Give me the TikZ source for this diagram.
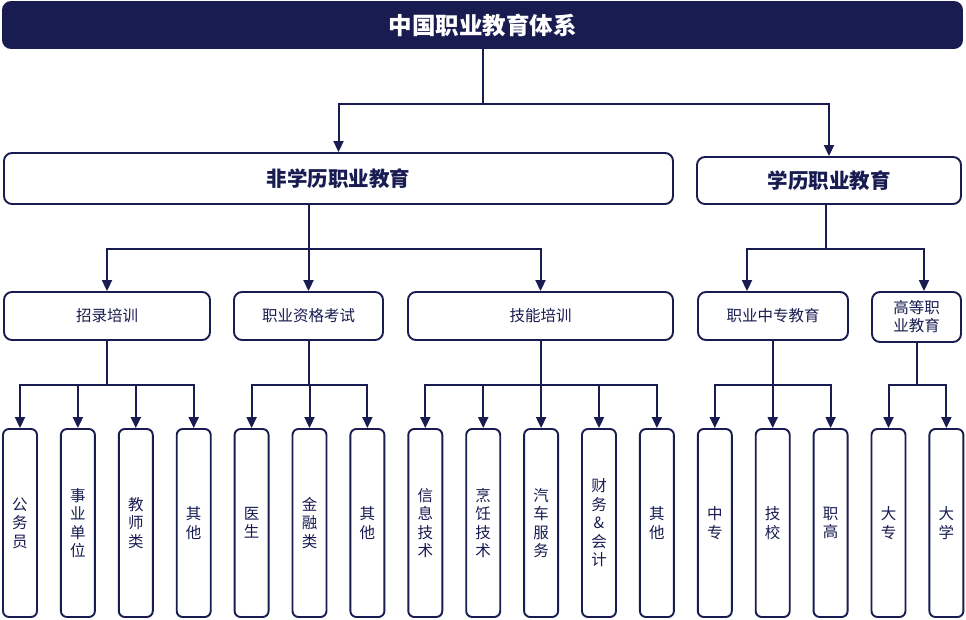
\documentclass[tikz,border=0pt]{standalone}
\usepackage{fontspec}
\newfontfamily\cjk{Noto Sans CJK SC}
\usetikzlibrary{arrows.meta}
\definecolor{navy}{HTML}{181C50}
\begin{document}
\begin{tikzpicture}[x=1pt,y=-1pt,
  box/.style={draw=navy,line width=1.9pt,rounded corners=8pt,fill=white,inner sep=0pt,text=navy,align=center},
  lvtwo/.style={box,font=\cjk\bfseries\fontsize{20.5}{23}\selectfont},
  lvthree/.style={box,minimum height=48pt,font=\cjk\fontsize{15.5}{18}\selectfont},
  leaf/.style={box,rounded corners=6pt,minimum width=34pt,minimum height=188pt,font=\cjk\fontsize{15.5}{18.5}\selectfont},
  arr/.style={draw=navy,line width=2pt,-{Triangle[width=10pt,length=11pt]}}]
\useasboundingbox (0,0) rectangle (966,620);

% top
\node[box,fill=navy,text=white,minimum width=959pt,minimum height=46pt,font=\cjk\bfseries\fontsize{23.5}{26}\selectfont] (top) at (482.5,25) {中国职业教育体系};

% level 2
\node[lvtwo,minimum width=669pt,minimum height=51pt] (nx) at (338.5,178.5) {非学历职业教育};
\node[lvtwo,minimum width=264pt,minimum height=47pt] (xl) at (829,180.5) {学历职业教育};

% level 3
\node[lvthree,minimum width=206pt] (zl) at (107,316) {招录培训};
\node[lvthree,minimum width=149pt] (zg) at (308.5,316) {职业资格考试};
\node[lvthree,minimum width=265pt] (jn) at (540.5,316) {技能培训};
\node[lvthree,minimum width=150pt] (zz) at (773,316) {职业中专教育};
\node[lvthree,minimum width=89pt,minimum height=50pt] (gd) at (916.5,317) {高等职\\业教育};

% leaves
\node[leaf] (a1) at (20,523) {公\\务\\员};
\node[leaf] (a2) at (77.9,523) {事\\业\\单\\位};
\node[leaf] (a3) at (135.8,523) {教\\师\\类};
\node[leaf] (a4) at (193.7,523) {其\\他};
\node[leaf] (b1) at (251.6,523) {医\\生};
\node[leaf] (b2) at (309.5,523) {金\\融\\类};
\node[leaf] (b3) at (367.4,523) {其\\他};
\node[leaf] (c1) at (425.3,523) {信\\息\\技\\术};
\node[leaf] (c2) at (483.2,523) {烹\\饪\\技\\术};
\node[leaf] (c3) at (541.1,523) {汽\\车\\服\\务};
\node[leaf] (c4) at (599,523) {财\\务\\\&\\会\\计};
\node[leaf] (c5) at (656.9,523) {其\\他};
\node[leaf] (d1) at (714.8,523) {中\\专};
\node[leaf] (d2) at (772.7,523) {技\\校};
\node[leaf] (d3) at (830.6,523) {职\\高};
\node[leaf] (e1) at (888.5,523) {大\\专};
\node[leaf] (e2) at (946.4,523) {大\\学};

% connectors top -> level 2
\draw[arr] (top.south) -- ++(0,55) -| (nx.north);
\draw[arr] (top.south) -- ++(0,55) -| (xl.north);

% level 2 -> level 3
\draw[arr] ([xshift=-29.5pt]nx.south) -- ++(0,44) -| (zl.north);
\draw[arr] ([xshift=-29.5pt]nx.south) -- ++(0,44) -| (zg.north);
\draw[arr] ([xshift=-29.5pt]nx.south) -- ++(0,44) -| (jn.north);
\draw[arr] ([xshift=-3pt]xl.south) -- ++(0,44) -| ([xshift=-26pt]zz.north);
\draw[arr] ([xshift=-3pt]xl.south) -- ++(0,44) -| ([xshift=7.5pt]gd.north);

% level 3 -> leaves
\foreach \t in {a1,a2,a3,a4} \draw[arr] (zl.south) -- ++(0,44) -| (\t.north);
\foreach \t in {b1,b2,b3} \draw[arr] ([xshift=0.5pt]zg.south) -- ++(0,44) -| (\t.north);
\foreach \t in {c1,c2,c3,c4,c5} \draw[arr] ([xshift=0.5pt]jn.south) -- ++(0,44) -| (\t.north);
\foreach \t in {d1,d2,d3} \draw[arr] (zz.south) -- ++(0,44) -| (\t.north);
\foreach \t in {e1,e2} \draw[arr] ([xshift=0.5pt]gd.south) -- ++(0,42) -| (\t.north);
\end{tikzpicture}
\end{document}
